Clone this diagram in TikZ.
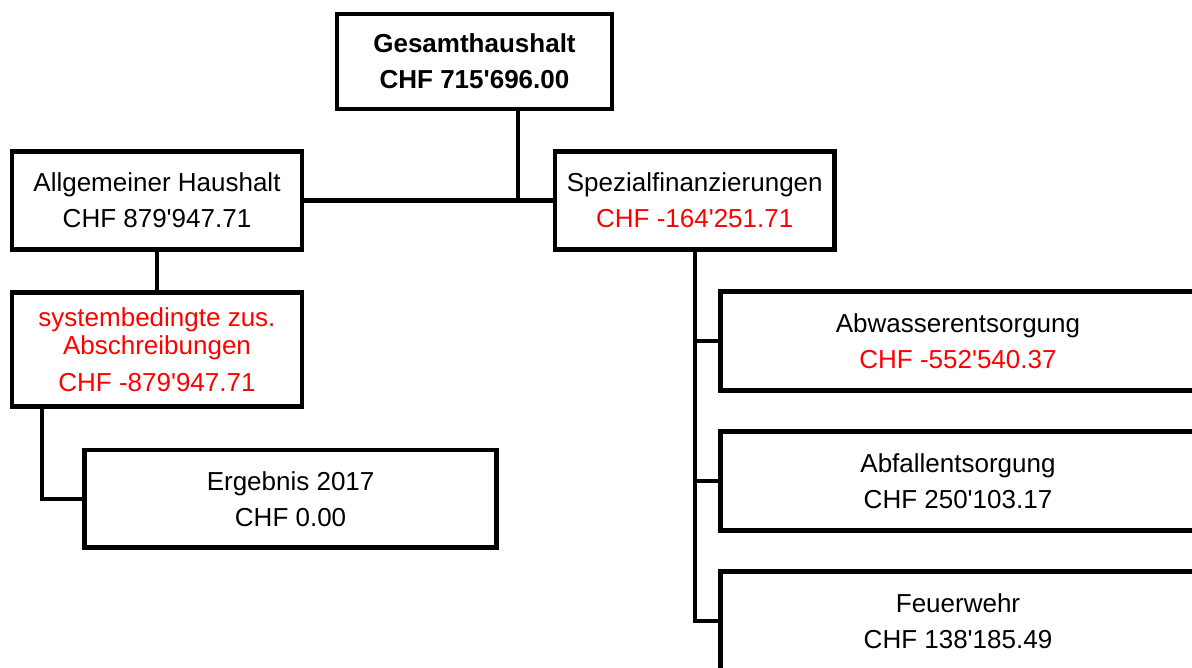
\documentclass[tikz,border=0pt]{standalone}
\usepackage{fontspec}
\setmainfont{Liberation Sans}[Ligatures=TeXOff]
\begin{document}
\begin{tikzpicture}[x=1pt,y=-1pt,line width=4.5pt,
  box/.style={draw=black, rectangle, inner sep=0pt, outer sep=0pt,
    align=center, text=black, font=\fontsize{26}{28}\selectfont},
  conn/.style={draw=black, line width=4.5pt, line join=miter}]
\useasboundingbox (0,0) rectangle (1192,668);

% boxes
\node[box, minimum width=275pt, minimum height=95pt, font=\fontsize{26}{28}\selectfont\bfseries]
  (ges) at (474.5,61.5) {Gesamthaushalt\\[8pt]CHF 715'696.00};
\node[box, minimum width=290pt, minimum height=98pt]
  (allg) at (157,200.5) {Allgemeiner Haushalt\\[8pt]CHF 879'947.71};
\node[box, minimum width=279.5pt, minimum height=98pt]
  (spez) at (694.75,200.5) {Spezialfinanzierungen\\[8pt]\textcolor{red}{CHF -164'251.71}};
\node[box, minimum width=290pt, minimum height=114pt, text=red]
  (sys) at (157,349.5) {systembedingte zus.\\Abschreibungen\\[9pt]CHF -879'947.71};
\node[box, minimum width=412pt, minimum height=97.7pt]
  (erg) at (290.6,498.8) {Ergebnis 2017\\[8pt]CHF 0.00};
\node[box, minimum width=475pt, minimum height=99pt]
  (abw) at (958,341) {Abwasserentsorgung\\[8pt]\textcolor{red}{CHF -552'540.37}};
\node[box, minimum width=475pt, minimum height=99pt]
  (abf) at (958,481) {Abfallentsorgung\\[8pt]CHF 250'103.17};
\node[box, minimum width=475pt, minimum height=99pt]
  (feu) at (958,621) {Feuerwehr\\[8pt]CHF 138'185.49};

% connector anchor points
\coordinate (jtop) at (518,200.5);
\coordinate (jsys) at (42,406.5);

% connectors
\draw[conn] (allg.east) -- (spez.west);
\draw[conn] (ges.south -| jtop) -- (jtop);
\draw[conn] (allg.south) -- (sys.north);
\draw[conn] (sys.south -| jsys) |- (erg.west);
\draw[conn] (spez.south) |- (feu.west);
\draw[conn] (spez.south |- abw.west) -- (abw.west);
\draw[conn] (spez.south |- abf.west) -- (abf.west);
\end{tikzpicture}
\end{document}
